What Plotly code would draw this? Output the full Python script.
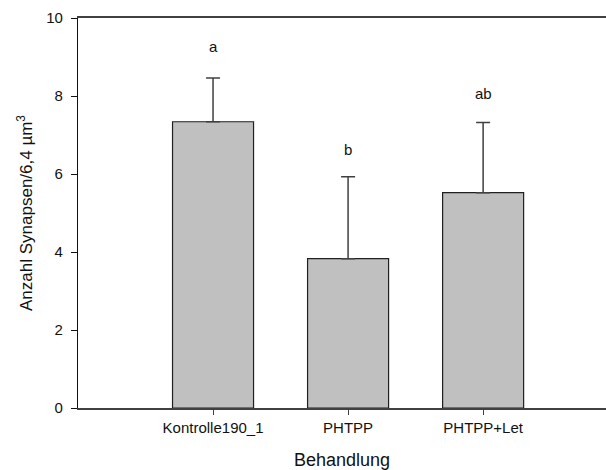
import plotly.graph_objects as go

categories = ["Kontrolle190_1", "PHTPP", "PHTPP+Let"]
means = [7.34, 3.83, 5.52]
err_upper = [1.12, 2.10, 1.80]
letters = ["a", "b", "ab"]
letter_y = [9.26, 6.63, 8.07]
y_ticks = [0, 2, 4, 6, 8, 10]

xpos = list(range(len(categories)))

fig = go.Figure()
fig.add_trace(go.Bar(
    x=xpos, y=means, width=0.6,
    marker=dict(color="#c0c0c0", line=dict(color="#202020", width=1.2)),
    error_y=dict(type="data", symmetric=False, array=err_upper,
                 arrayminus=[0]*len(means), color="#404040", thickness=1.5, width=7),
    showlegend=False, hoverinfo="skip",
))

for x, t, y in zip(xpos, letters, letter_y):
    fig.add_annotation(x=x, y=y, text=t, showarrow=False,
                       font=dict(family="Liberation Sans, Arial", size=15, color="#111111"))

fig.update_layout(
    width=606, height=470,
    margin=dict(l=78, r=0, t=18, b=62),
    plot_bgcolor="white", paper_bgcolor="white",
    font=dict(family="Liberation Sans, Arial", color="#111111"),
    xaxis=dict(
        range=[-1.0, 2.91], tickmode="array", tickvals=xpos, ticktext=categories,
        showline=True, linecolor="#404040", linewidth=1.5, mirror=True,
        ticks="outside", ticklen=5, tickcolor="#404040", tickwidth=1,
        showgrid=False, zeroline=False, tickfont=dict(size=15),
        ticklabelstandoff=0,
        title=dict(text="Behandlung", font=dict(size=18), standoff=21),
    ),
    yaxis=dict(
        range=[0, 10], tickvals=y_ticks,
        showline=True, linecolor="#111111", linewidth=1.2,
        ticks="outside", ticklen=6, tickcolor="#111111", tickwidth=1,
        showgrid=False, zeroline=False, tickfont=dict(size=15),
        ticklabelstandoff=5,
        title=dict(text="Anzahl Synapsen/6,4 µm<sup>3</sup>", font=dict(size=17), standoff=9),
    ),
)

fig.write_html("out.html")
